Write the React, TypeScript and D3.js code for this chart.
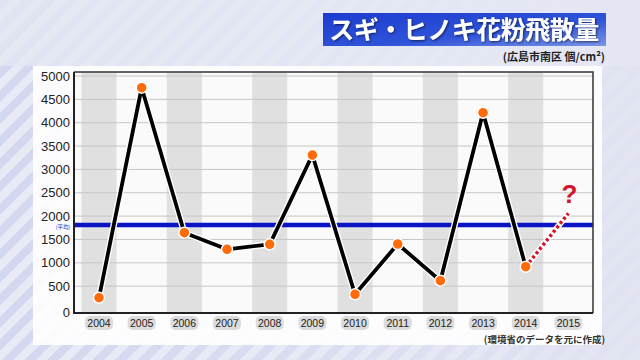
import * as d3 from "d3";

const years = ["2004", "2005", "2006", "2007", "2008", "2009", "2010", "2011", "2012", "2013", "2014", "2015"];
const pollen = [253, 4750, 1645, 1289, 1396, 3308, 325, 1402, 617, 4214, 916];
const forecast = [916, 2060]; // 2014 -> 2015 (dashed guess)
const average = 1809;
const yTicks = [0, 500, 1000, 1500, 2000, 2500, 3000, 3500, 4000, 4500, 5000];

const W = 640;
const H = 360;
const plot = { left: 74, right: 593, top: 72, bottom: 313 };
const font = "'Liberation Sans', Arial, 'Noto Sans CJK JP', sans-serif";
const jpFont = "'Noto Sans CJK JP', 'Liberation Sans', sans-serif";

export default function App() {
  const x = d3.scalePoint().domain(years).range([99, 568.4]);
  const y = d3.scaleLinear().domain([-75, 5086]).range([plot.bottom, plot.top]);

  const line = d3.line<number>()
    .x((_, i) => x(years[i])!)
    .y(d => y(d));

  const fcLine = d3.line<number>()
    .x((_, i) => x(years[10 + i])!)
    .y(d => y(d));

  const bandW = 35;

  return (
    <svg width={W} height={H} style={{ position: "absolute", left: 0, top: 0 }}>
      <defs>
        <pattern id="stripes" width="16" height="16" patternUnits="userSpaceOnUse" patternTransform="rotate(45)">
          <rect width="16" height="16" fill="#e8eaf6" />
          <rect width="8" height="16" fill="#d3d7ef" />
        </pattern>
        <linearGradient id="fade" x1="0" x2="1" y1="0" y2="0">
          <stop offset="0" stopColor="#e6e8f4" stopOpacity="0" />
          <stop offset="0.5" stopColor="#e6e8f4" stopOpacity="0.4" />
          <stop offset="1" stopColor="#e2e4f2" stopOpacity="0.9" />
        </linearGradient>
        <linearGradient id="title" x1="0" x2="1" y1="0" y2="1">
          <stop offset="0" stopColor="#1c3ccf" />
          <stop offset="0.6" stopColor="#2f54d8" />
          <stop offset="1" stopColor="#7b96ea" />
        </linearGradient>
        <filter id="shadow" x="-10%" y="-30%" width="120%" height="160%">
          <feDropShadow dx="1" dy="1" stdDeviation="0.8" floodColor="#000" floodOpacity="0.6" />
        </filter>
      </defs>

      {/* background */}
      <rect width={W} height={H} fill="url(#stripes)" />
      <rect width={W} height={H} fill="url(#fade)" />
      <rect x={0} y={0} width={W} height={66} fill="#e6e8f4" opacity={0.7} />

      {/* panel */}
      <rect x={33} y={66} width={569} height={279} fill="#ffffff" opacity={0.9} />

      {/* title */}
      <rect x={323} y={13} width={283} height={33} fill="url(#title)" />
      <text x={464} y={39} textAnchor="middle" fill="#fff" fontFamily={jpFont} fontWeight="bold" fontSize={25} letterSpacing={-0.5} filter="url(#shadow)">
        スギ・ヒノキ花粉飛散量
      </text>
      <text x={605} y={61} textAnchor="end" fill="#222" fontFamily={jpFont} fontWeight="bold" fontSize={11}>
        (広島市南区 個/cm²)
      </text>

      {/* plot background */}
      <rect x={plot.left} y={plot.top} width={plot.right - plot.left} height={plot.bottom - plot.top} fill="#fafafa" />
      {years.map((yr, i) => i % 2 === 0 ? (
        <rect key={yr} x={x(yr)! - bandW / 2} y={plot.top} width={bandW} height={plot.bottom - plot.top} fill="#e0e0e0" />
      ) : null)}

      {/* grid */}
      {yTicks.filter(t => t > 0).map(t => (
        <line key={t} x1={plot.left} x2={plot.right} y1={y(t)} y2={y(t)} stroke="#c6c6c6" strokeWidth={1} />
      ))}

      {/* y labels */}
      {yTicks.map(t => (
        <text key={t} x={70} y={t === 0 ? plot.bottom - 1 : y(t)} dy="0.36em" textAnchor="end" fontFamily={font} fontSize={13} fill="#222">
          {t}
        </text>
      ))}

      {/* average */}
      <line x1={plot.left} x2={plot.right} y1={y(average)} y2={y(average)} stroke="#0a14c4" strokeWidth={4.5} />
      <text x={63} y={y(average) + 2.5} dy="0.35em" textAnchor="middle" fontFamily={jpFont} fontSize={5.5} fill="#2030c0">
        (平均)
      </text>

      {/* frame */}
      <path
        d={`M${plot.left},${plot.top}H${plot.right}V${plot.bottom}`}
        fill="none" stroke="#333" strokeWidth={1.5}
      />
      <path d={`M${plot.left},${plot.top}V${plot.bottom}H${plot.right}`} fill="none" stroke="#222" strokeWidth={2} />

      {/* forecast */}
      <path d={fcLine(forecast)!} fill="none" stroke="#fff" strokeWidth={6} strokeLinecap="round" />
      <path d={fcLine(forecast)!} fill="none" stroke="#d4142a" strokeWidth={3.5} strokeDasharray="3 2.5" />
      <text x={x("2015")! + 1} y={203} textAnchor="middle" fontFamily={font} fontWeight="bold" fontSize={26} fill="#d4142a">
        ?
      </text>

      {/* series */}
      <path d={line(pollen)!} fill="none" stroke="#fff" strokeWidth={6.5} strokeLinejoin="round" />
      <path d={line(pollen)!} fill="none" stroke="#000" strokeWidth={3.8} strokeLinejoin="round" />
      {pollen.map((v, i) => (
        <circle key={i} cx={x(years[i])} cy={y(v)} r={5.5} fill="#ff6a0a" stroke="#fff" strokeWidth={1.5} />
      ))}

      {/* x labels */}
      {years.map(yr => (
        <g key={yr} transform={`translate(${x(yr)},${323})`}>
          <rect x={-14} y={-7} width={28} height={14} rx={5} fill="#dcdcdc" />
          <text dy="0.36em" textAnchor="middle" fontFamily={font} fontSize={10.5} fill="#222">
            {yr}
          </text>
        </g>
      ))}

      <text x={605} y={343} textAnchor="end" fontFamily={jpFont} fontWeight="bold" fontSize={9.5} fill="#333">
        (環境省のデータを元に作成)
      </text>
    </svg>
  );
}
